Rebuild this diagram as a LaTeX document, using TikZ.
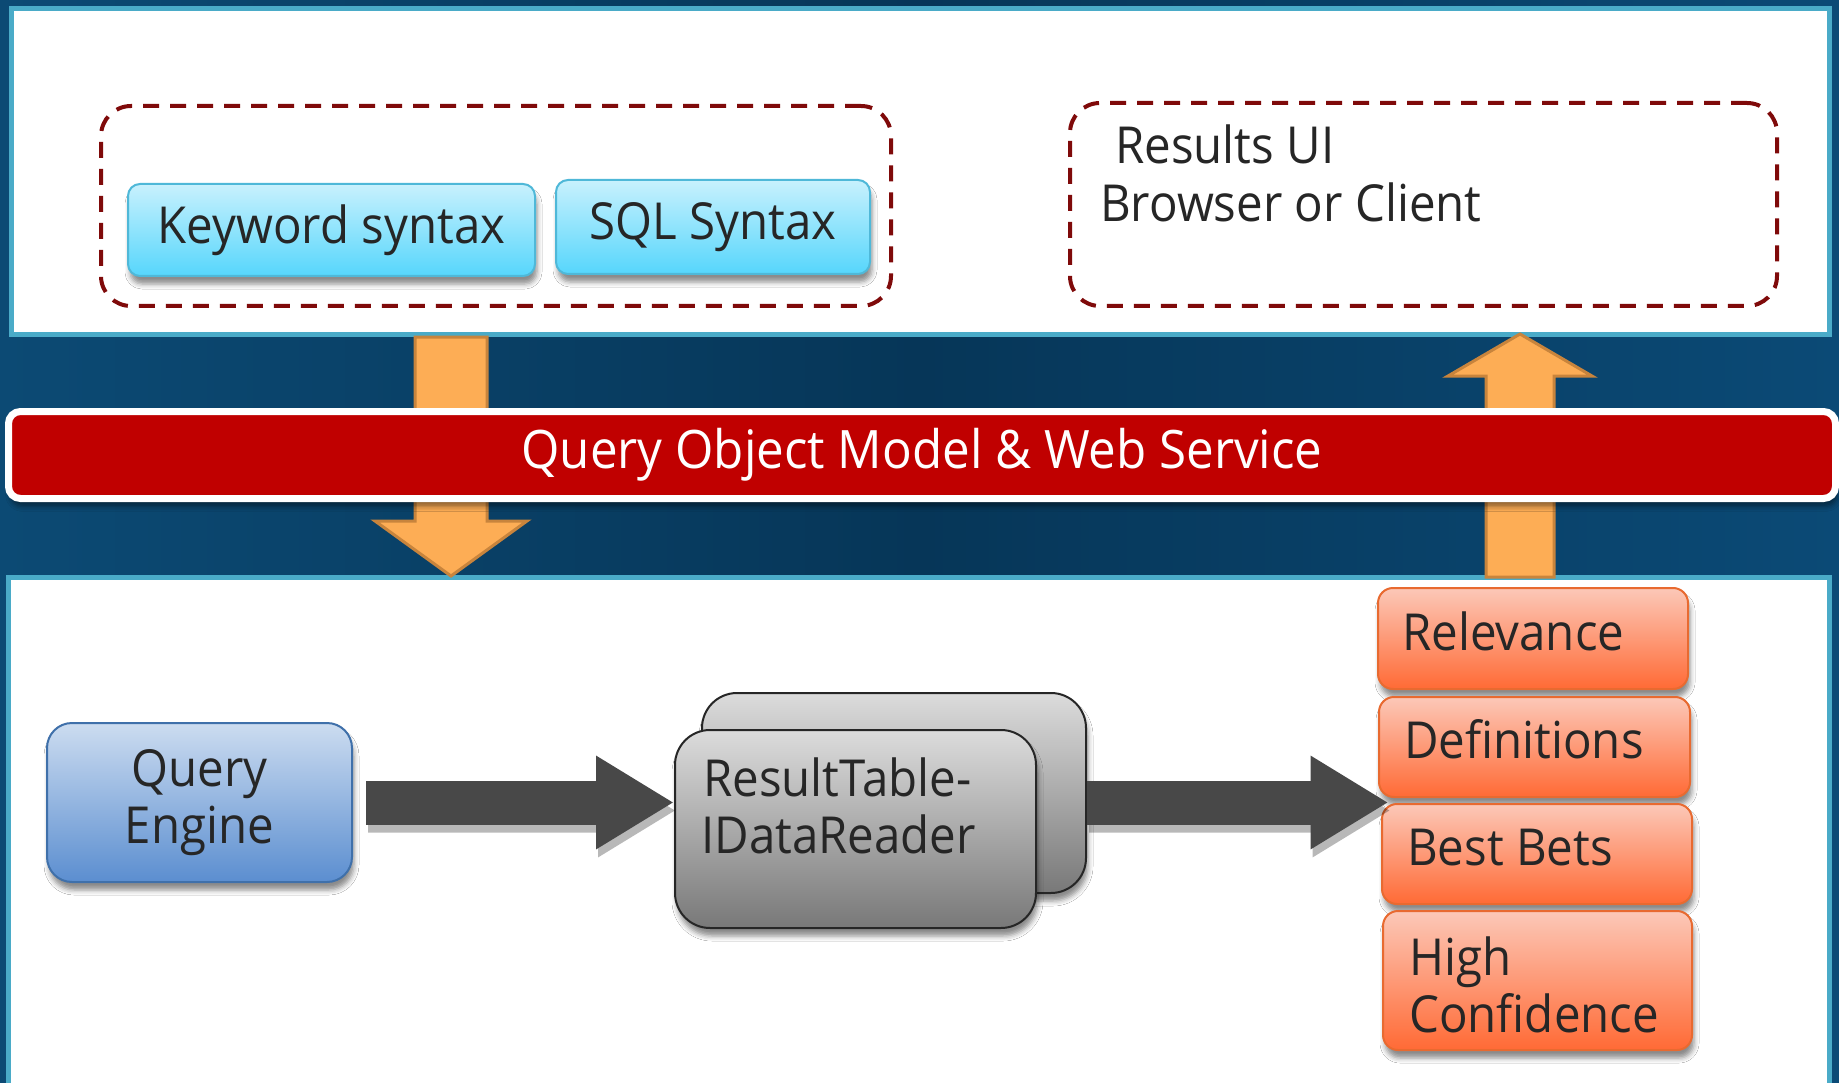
\documentclass[tikz,border=0pt]{standalone}
\usepackage{fontspec}
\setmainfont[FakeStretch=0.93]{Open Sans}
\usetikzlibrary{arrows.meta,calc,shadows.blur}
\definecolor{bgl}{HTML}{0C4A74}
\definecolor{bgm}{HTML}{063658}
\definecolor{bgr}{HTML}{0B4A76}
\definecolor{paneledge}{HTML}{4AABC8}
\definecolor{dashred}{HTML}{7F0A0A}
\definecolor{txtgray}{HTML}{262626}
\definecolor{cyantop}{HTML}{C8F1FD}
\definecolor{cyanbot}{HTML}{56D6FC}
\definecolor{cyanedge}{HTML}{4FB8D8}
\definecolor{bluetop}{HTML}{CCDCF0}
\definecolor{bluebot}{HTML}{5B8ED0}
\definecolor{blueedge}{HTML}{3F70AA}
\definecolor{graytop}{HTML}{DCDCDC}
\definecolor{graybot}{HTML}{787878}
\definecolor{grayedge}{HTML}{262626}
\definecolor{orgtop}{HTML}{FCC8B8}
\definecolor{orgbot}{HTML}{FF6A35}
\definecolor{orgedge}{HTML}{E86A30}
\definecolor{barred}{HTML}{C00000}
\definecolor{arrfill}{HTML}{FDAD55}
\definecolor{arredge}{HTML}{C8843C}
\definecolor{darkarr}{HTML}{484848}
\tikzset{
  txt/.style={text=txtgray, font=\fontsize{51}{57}\selectfont, inner sep=0pt},
  shad/.style={blur shadow={shadow xshift=2pt, shadow yshift=-8pt, shadow blur radius=5pt, shadow opacity=45}},
  panel/.style={draw=paneledge, fill=white, line width=5pt},
  dashgroup/.style={draw=dashred, line width=4pt, dash pattern=on 16pt off 11pt, rounded corners=30pt},
  cyanbox/.style={shad, txt, rounded corners=12pt, draw=cyanedge, line width=2pt, top color=cyantop, bottom color=cyanbot},
  bluebox/.style={shad, txt, rounded corners=25pt, draw=blueedge, line width=2pt, top color=bluetop, bottom color=bluebot, align=center},
  graybox/.style={shad, rounded corners=35pt, draw=grayedge, line width=2pt, top color=graytop, bottom color=graybot},
  orgbox/.style={shad, rounded corners=15pt, draw=orgedge, line width=2pt, top color=orgtop, bottom color=orgbot},
  lefttxt/.style={txt, anchor=base west},
  barbox/.style={fill=barred, draw=white, line width=7pt, rounded corners=12pt, text=white, font=\fontsize{53}{59}\selectfont},
  oarrow/.style={fill=arrfill, draw=arredge, line width=3pt, line join=miter},
  darrow/.style={draw=darkarr, line width=44pt, -{Triangle[length=78pt,width=88pt]}},
  darrowshadow/.style={draw=black, line width=44pt, -{Triangle[length=78pt,width=88pt]}},
}
\begin{document}
\begin{tikzpicture}[x=1pt,y=-1pt]
\useasboundingbox (0,0) rectangle (1839,1083);
\clip (0,0) rectangle (1839,1083);
% background
\shade[left color=bgl, right color=bgr, middle color=bgm] (0,0) rectangle (1839,1083);
% panels
\node[panel, minimum width=1818pt, minimum height=326pt, inner sep=0pt] (toppanel) at (920.5,171.5) {};
\node[panel, minimum width=1821pt, minimum height=520pt, inner sep=0pt] (botpanel) at (919,837.5) {};
% dashed groups
\node[dashgroup, minimum width=790pt, minimum height=200pt] (lgroup) at (496,206) {};
\node[dashgroup, minimum width=707pt, minimum height=203pt] (rgroup) at (1423.5,204.5) {};
% syntax boxes
\node[cyanbox, minimum width=407pt, minimum height=92pt] (kw) at (331.5,230) {Keyword syntax};
\node[cyanbox, minimum width=314pt, minimum height=94pt] (sql) at (713,227) {SQL Syntax};
% results text
\node[lefttxt] (resA) at (1115,164) {Results UI};
\node[lefttxt] (resB) at (1100,222) {Browser or Client};
% orange block arrows
\coordinate (dstart) at (451,337);
\coordinate (dend) at (451,576);
\draw[oarrow] ($(dstart)+(-36,0)$) -- ($(dend)+(-36,-55)$) -- ($(dend)+(-76,-55)$) -- (dend)
   -- ($(dend)+(76,-55)$) -- ($(dend)+(36,-55)$) -- ($(dstart)+(36,0)$) -- cycle;
\coordinate (ustart) at (1520,577);
\coordinate (uend) at (1520,334);
\draw[oarrow] ($(ustart)+(-34,0)$) -- ($(uend)+(-34,42)$) -- ($(uend)+(-72,42)$) -- (uend)
   -- ($(uend)+(72,42)$) -- ($(uend)+(34,42)$) -- ($(ustart)+(34,0)$) -- cycle;
% red bar
\node[barbox, shad, minimum width=1827pt, minimum height=87pt] (qom) at (922,455) {Query Object Model \& Web Service};
% bottom boxes
\node[bluebox, minimum width=305pt, minimum height=159pt] (qe) at (199.5,802.5) {Query\\Engine};
\node[graybox, minimum width=384pt, minimum height=200pt] (rtb) at (894,793) {};
\node[graybox, minimum width=361pt, minimum height=198pt] (rtf) at (855.5,829) {};
\node[lefttxt] (rtA) at (703,796) {ResultTable-};
\node[lefttxt] (rtB) at (701,853) {IDataReader};
\node[orgbox, minimum width=310pt, minimum height=101pt] (rel) at (1533,638.5) {};
\node[orgbox, minimum width=311pt, minimum height=100pt] (def) at (1534.5,747) {};
\node[orgbox, minimum width=310pt, minimum height=100pt] (bb) at (1537,854) {};
\node[orgbox, minimum width=309pt, minimum height=139pt] (hc) at (1537.5,980.5) {};
\node[lefttxt] (relT) at (1402,650) {Relevance};
\node[lefttxt] (defT) at (1404,758) {Definitions};
\node[lefttxt] (bbT) at (1407,865) {Best Bets};
\node[lefttxt] (hcA) at (1409,975) {High};
\node[lefttxt] (hcB) at (1409,1032) {Confidence};
\coordinate (join) at ($(def.south west)!0.5!(bb.north west)$);
% dark arrows
\begin{scope}[transparency group, opacity=0.28, transform canvas={xshift=2pt,yshift=-8pt}]
\draw[darrowshadow, shorten <=13pt] (qe.east) -- (qe.east -| rtf.west);
\draw[darrowshadow, shorten >=-9pt] (rtb.east |- qe.east) -- (qe.east -| join);
\end{scope}
\draw[darrow, shorten <=13pt] (qe.east) -- (qe.east -| rtf.west);
\draw[darrow, shorten >=-9pt] (rtb.east |- qe.east) -- (qe.east -| join);
\end{tikzpicture}
\end{document}
